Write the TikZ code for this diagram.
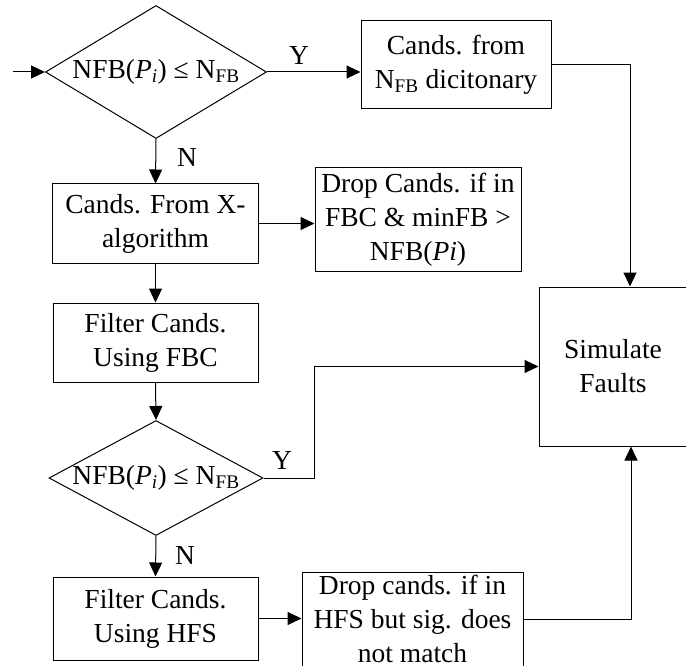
\documentclass[tikz,border=0pt]{standalone}
\usepackage{fontspec}
\setmainfont{Liberation Serif}
\usetikzlibrary{arrows.meta,shapes.geometric}

\begin{document}
\begin{tikzpicture}[x=1pt,y=-1pt,
  every node/.style={font=\fontsize{27.5pt}{34pt}\selectfont},
  stepbox/.style={draw, line width=1pt, rectangle, align=center, inner sep=0pt},
  decision/.style={draw, line width=1pt, diamond, inner sep=0pt, aspect=1.6},
  arr/.style={line width=1pt, -{Triangle[length=14pt,width=13pt]}},
  tag/.style={inner sep=0pt}
]
\useasboundingbox (0,0) rectangle (686,666);

% decisions
\node[decision, minimum width=221pt, minimum height=133pt] (d1) at (156,72)
  {\makebox[0pt]{NFB(\textit{P}\textsubscript{\textit{i}}) ≤ N\textsubscript{FB}}};
\node[decision, minimum width=214pt, minimum height=115pt] (d2) at (156,478)
  {\makebox[0pt]{NFB(\textit{P}\textsubscript{\textit{i}}) ≤ N\textsubscript{FB}}};

% process boxes
\node[stepbox, minimum width=190pt, minimum height=88pt] (b1) at (456,65)
  {Cands. from\\N\textsubscript{FB} dicitonary};
\node[stepbox, minimum width=206pt, minimum height=79pt] (b2) at (155.5,223.5)
  {Cands. From X-\\algorithm};
\node[stepbox, minimum width=206pt, minimum height=103pt] (b3) at (418,219.5)
  {Drop Cands. if in\\FBC \& minFB >\\NFB(\textit{Pi})};
\node[stepbox, minimum width=205pt, minimum height=79pt] (b4) at (155.5,342.5)
  {Filter Cands.\\Using FBC};
\node[stepbox, minimum width=205pt, minimum height=83pt] (b5) at (155.5,618.5)
  {Filter Cands.\\Using HFS};
\node[stepbox, minimum width=221pt, minimum height=94pt] (b6) at (412.5,619)
  {Drop cands. if in\\HFS but sig. does\\not match};
\node[stepbox, minimum width=148pt, minimum height=159pt] (sim) at (613,366.5)
  {Simulate\\Faults};

% connectors
\coordinate (start) at (13,72);
\draw[arr] (start) -- (d1.west);
\draw[arr] (d1.east) -- (d1.east -| b1.west);
\draw[arr] (b1.east) -| ([xshift=17pt]sim.north);
\draw[arr] (d1.south) -- (b2.north);
\draw[arr] (b2.east) -- (b2.east -| b3.west);
\draw[arr] (b2.south) -- (b4.north);
\draw[arr] (b4.south) -- (d2.north);
\draw[arr] (d2.east) -- ++(51,0) |- (sim.west);
\draw[arr] (d2.south) -- (b5.north);
\draw[arr] (b5.east) -- (b5.east -| b6.west);
\draw[arr] (b6.east) -| ([xshift=18pt]sim.south);

% branch labels
\node[tag] at (299,55) {Y};
\node[tag] at (187,157) {N};
\node[tag] at (282,460) {Y};
\node[tag] at (185,555) {N};
\end{tikzpicture}
\end{document}
